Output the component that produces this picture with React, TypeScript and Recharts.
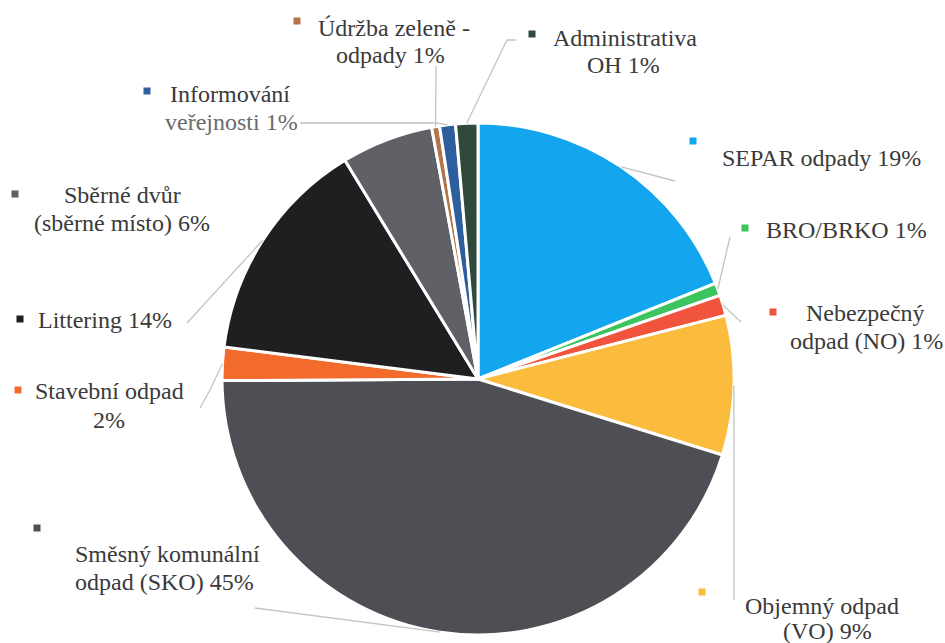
import React from "react";
import { PieChart, Pie, Cell } from "recharts";

// odpadové hospodářství – podíly nákladů, po směru hodinových ručiček od 12 h
const categories = [
  "SEPAR odpady",
  "BRO/BRKO",
  "Nebezpečný odpad (NO)",
  "Objemný odpad (VO)",
  "Směsný komunální odpad (SKO)",
  "Stavební odpad",
  "Littering",
  "Sběrné dvůr (sběrné místo)",
  "Údržba zeleně - odpady",
  "Informování veřejnosti",
  "Administrativa OH",
];
const values = [18.9, 0.8, 1.3, 8.8, 45.1, 2.1, 14.3, 5.8, 0.5, 1.0, 1.4];
const percentLabels = ["19%", "1%", "1%", "9%", "45%", "2%", "14%", "6%", "1%", "1%", "1%"];
const labelLines = [
  ["SEPAR odpady 19%"],
  ["BRO/BRKO 1%"],
  ["Nebezpečný", "odpad (NO) 1%"],
  ["Objemný odpad", "(VO) 9%"],
  ["Směsný komunální", "odpad (SKO) 45%"],
  ["Stavební odpad", "2%"],
  ["Littering 14%"],
  ["Sběrné dvůr", "(sběrné místo) 6%"],
  ["Údržba zeleně -", "odpady 1%"],
  ["Informování", "veřejnosti 1%"],
  ["Administrativa", "OH 1%"],
];
const colors = [
  "#13a5ee", "#3cc45e", "#f1543c", "#fbbc3e", "#4d4f55", "#f26b2d",
  "#1f1f22", "#5f6167", "#b27448", "#2f5e9f", "#2f4a3b",
];

const data = categories.map((name, i) => ({ name, value: values[i], pct: percentLabels[i] }));

// label layout: marker square, text lines [x, baseline], leader line bends
type Layout = {
  marker: [number, number];
  text: [number, number][];
  line?: [number, number][];
  fill?: string[];
};
const layouts: Layout[] = [
  { marker: [693, 141], text: [[722, 166]], line: [[675, 181]] },
  { marker: [745, 228], text: [[766, 238]], line: [[730, 237]] },
  { marker: [773, 312], text: [[806, 321], [790, 349]], line: [[741, 322]] },
  { marker: [702, 592], text: [[745, 614], [783, 639]], line: [[734, 600]] },
  { marker: [37, 528], text: [[75, 562], [75, 590]], line: [[255, 608]] },
  { marker: [18, 390], text: [[35, 399], [93, 428]], line: [[210, 390], [200, 408]] },
  { marker: [20, 319], text: [[38, 328]], line: [[187, 323]] },
  { marker: [15, 194], text: [[64, 203], [34, 231]] },
  { marker: [297, 21], text: [[318, 36], [336, 63]], line: [[436, 66]] },
  { marker: [147, 91], text: [[170, 102], [165, 130]], line: [[437, 123], [300, 123]], fill: ["#3a3a3a", "#6b6b6b"] },
  { marker: [532, 34], text: [[553, 46], [587, 73]], line: [[507, 40], [516, 40]] },
];

const RAD = Math.PI / 180;
const labelCss =
  'text.lbl { font-family: "Liberation Serif", "Times New Roman", Tinos, "Nimbus Roman", FreeSerif, sans-serif; font-size: 24px; }';

// leader lines, colour keys and texts drawn through the pie's label hook
function renderLabel(props: any) {
  const { cx, cy, midAngle, outerRadius, index } = props;
  const lay = layouts[index];
  const sx = cx + outerRadius * Math.cos(-midAngle * RAD);
  const sy = cy + outerRadius * Math.sin(-midAngle * RAD);
  const pts = lay.line ? [[sx, sy], ...lay.line] : null;
  return (
    <g key={`lbl-${index}`}>
      {pts && (
        <polyline
          points={pts.map((p) => p.join(",")).join(" ")}
          fill="none"
          stroke="#c4c4c4"
          strokeWidth={1.3}
        />
      )}
      <rect x={lay.marker[0] - 3.5} y={lay.marker[1] - 3.5} width={7} height={7} fill={colors[index]} />
      {labelLines[index].map((t, j) => (
        <text
          key={j}
          className="lbl"
          x={lay.text[j][0]}
          y={lay.text[j][1]}
          fill={lay.fill ? lay.fill[j] : "#3a3a3a"}
        >
          {t}
        </text>
      ))}
    </g>
  );
}

export default function App() {
  return (
    <div style={{ position: "absolute", left: 0, top: 0, width: 945, height: 643, background: "#fff" }}>
      <style>{labelCss}</style>
      <PieChart width={945} height={643} margin={{ top: 0, right: 0, bottom: 0, left: 0 }}>
        <Pie
          data={data}
          dataKey="value"
          nameKey="name"
          cx={478}
          cy={379}
          outerRadius={256}
          startAngle={90}
          endAngle={-270}
          stroke="#ffffff"
          strokeWidth={3}
          label={renderLabel}
          labelLine={false}
          isAnimationActive={false}
        >
          {data.map((d, i) => (
            <Cell key={d.name} fill={colors[i]} />
          ))}
        </Pie>
      </PieChart>
    </div>
  );
}
